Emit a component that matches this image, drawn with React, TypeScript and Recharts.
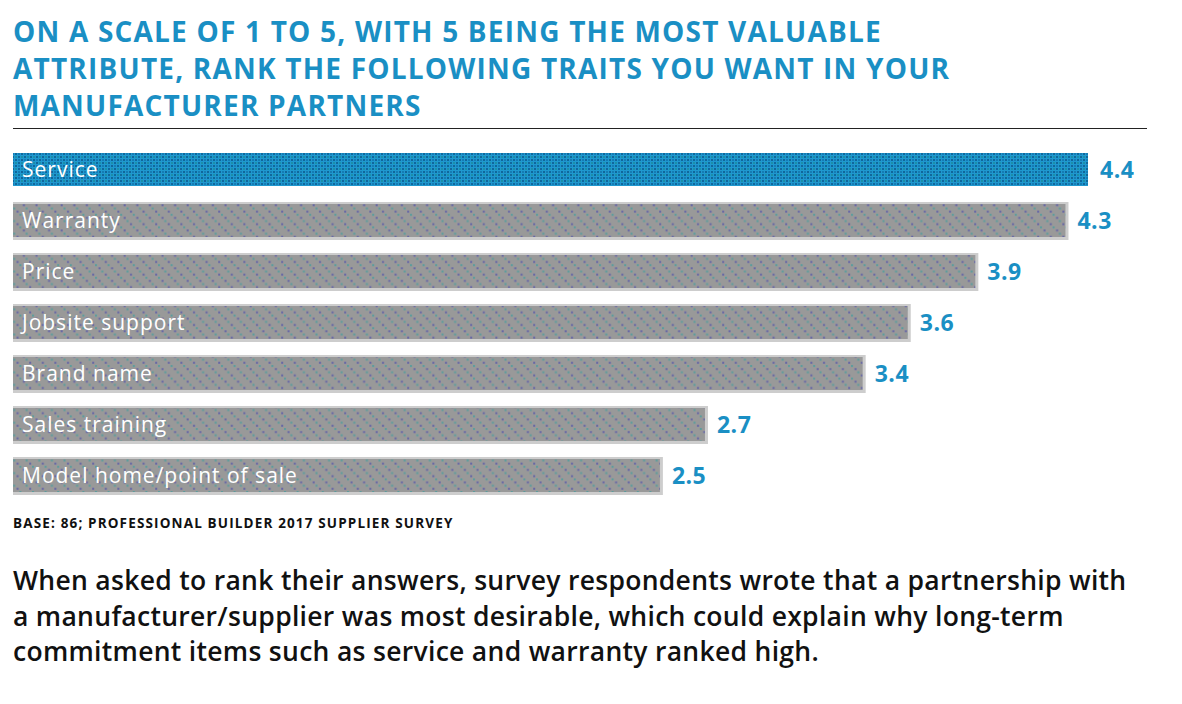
import React from "react";
import { BarChart, Bar, XAxis, YAxis, LabelList } from "recharts";

const categories = [
  "Service",
  "Warranty",
  "Price",
  "Jobsite support",
  "Brand name",
  "Sales training",
  "Model home/point of sale",
];
const scores = [4.4, 4.3, 3.9, 3.6, 3.4, 2.7, 2.5];
const highlighted = ["Service"];

const titleLines = [
  "ON A SCALE OF 1 TO 5, WITH 5 BEING THE MOST VALUABLE",
  "ATTRIBUTE, RANK THE FOLLOWING TRAITS YOU WANT IN YOUR",
  "MANUFACTURER PARTNERS",
];
const sourceNote = "BASE: 86; PROFESSIONAL BUILDER 2017 SUPPLIER SURVEY";
const bodyLines = [
  "When asked to rank their answers, survey respondents wrote that a partnership with",
  "a manufacturer/supplier was most desirable, which could explain why long-term",
  "commitment items such as service and warranty ranked high.",
];

// axis starts a little below zero, as in the original graphic
const AXIS_MIN = -0.371;
const AXIS_MAX = 4.4;

const data = categories.map((name, i) => ({
  name,
  score: scores[i],
  hl: highlighted.includes(name),
}));

const BLUE = "#1a8fc4";
const FONT = "'Open Sans', Lato, sans-serif";

const BarShape = (props: any) => {
  const { x, y, width, height, payload } = props;
  if (payload.hl) {
    return <rect x={x} y={y} width={width} height={height} fill="url(#bluePat)" />;
  }
  return (
    <g>
      <rect x={x} y={y - 2} width={width + 3} height={height + 5} fill="#cdcdcd" />
      <rect x={x} y={y} width={width} height={height} fill="url(#grayPat)" />
    </g>
  );
};

export default function App() {
  return (
    <div
      style={{
        position: "absolute",
        left: 0,
        top: 0,
        width: 1182,
        height: 704,
        background: "#fff",
        fontFamily: FONT,
      }}
    >
      <div
        style={{
          position: "absolute",
          left: 13,
          top: 13,
          color: BLUE,
          fontWeight: 700,
          fontSize: 28,
          lineHeight: "37px",
          letterSpacing: 1.2,
          whiteSpace: "nowrap",
        }}
      >
        {titleLines.map((l) => (
          <div key={l}>{l}</div>
        ))}
      </div>
      <div
        style={{
          position: "absolute",
          left: 13,
          top: 128,
          width: 1134,
          height: 1,
          background: "#222",
        }}
      />
      <div style={{ position: "absolute", left: 0, top: 144 }}>
        <BarChart
          width={1182}
          height={357}
          data={data}
          layout="vertical"
          margin={{ top: 0, right: 94, bottom: 0, left: 13 }}
        >
          <defs>
            <pattern id="grayPat" width="12.6" height="12.6" patternUnits="userSpaceOnUse">
              <rect width="12.6" height="12.6" fill="#999999" />
              <rect x="0.5" y="0.5" width="2" height="2" fill="#5b9d9d" />
              <rect x="4" y="3.6" width="2" height="2" fill="#6666a6" />
              <rect x="6.8" y="6.8" width="2" height="2" fill="#5b9d9d" />
              <rect x="10.3" y="9.9" width="2" height="2" fill="#6666a6" />
            </pattern>
            <pattern id="bluePat" width="6" height="6" patternUnits="userSpaceOnUse">
              <rect width="6" height="6" fill="#1f98cf" />
              <rect x="0" y="0" width="2" height="2" fill="#10679c" />
              <rect x="3" y="3" width="2" height="2" fill="#10679c" />
              <rect x="3" y="0" width="2" height="2" fill="#1b8fa8" />
              <rect x="0" y="3" width="2" height="2" fill="#167cb4" />
            </pattern>
          </defs>
          <XAxis type="number" domain={[AXIS_MIN, AXIS_MAX]} hide allowDataOverflow />
          <YAxis type="category" dataKey="name" hide />
          <Bar
            dataKey={(d: any) => [AXIS_MIN, d.score]}
            shape={BarShape}
            isAnimationActive={false}
            barSize={33}
          >
            <LabelList
              dataKey="name"
              position="insideLeft"
              offset={9}
              fill="#ffffff"
              fontSize={21}
              letterSpacing={1}
              fontFamily={FONT}
            />
            <LabelList
              dataKey="score"
              position="right"
              offset={12}
              fill={BLUE}
              fontSize={23}
              fontWeight={700}
              letterSpacing={0.5}
              fontFamily={FONT}
              formatter={(v: any) => Number(v).toFixed(1)}
            />
          </Bar>
        </BarChart>
      </div>
      <div
        style={{
          position: "absolute",
          left: 13,
          top: 514,
          fontSize: 13.5,
          fontWeight: 700,
          color: "#111",
          letterSpacing: 1.15,
          whiteSpace: "nowrap",
        }}
      >
        {sourceNote}
      </div>
      <div
        style={{
          position: "absolute",
          left: 13,
          top: 563,
          fontSize: 26.5,
          fontWeight: 600,
          lineHeight: "35.5px",
          letterSpacing: 0.3,
          color: "#111",
          whiteSpace: "nowrap",
        }}
      >
        {bodyLines.map((l) => (
          <div key={l}>{l}</div>
        ))}
      </div>
    </div>
  );
}
